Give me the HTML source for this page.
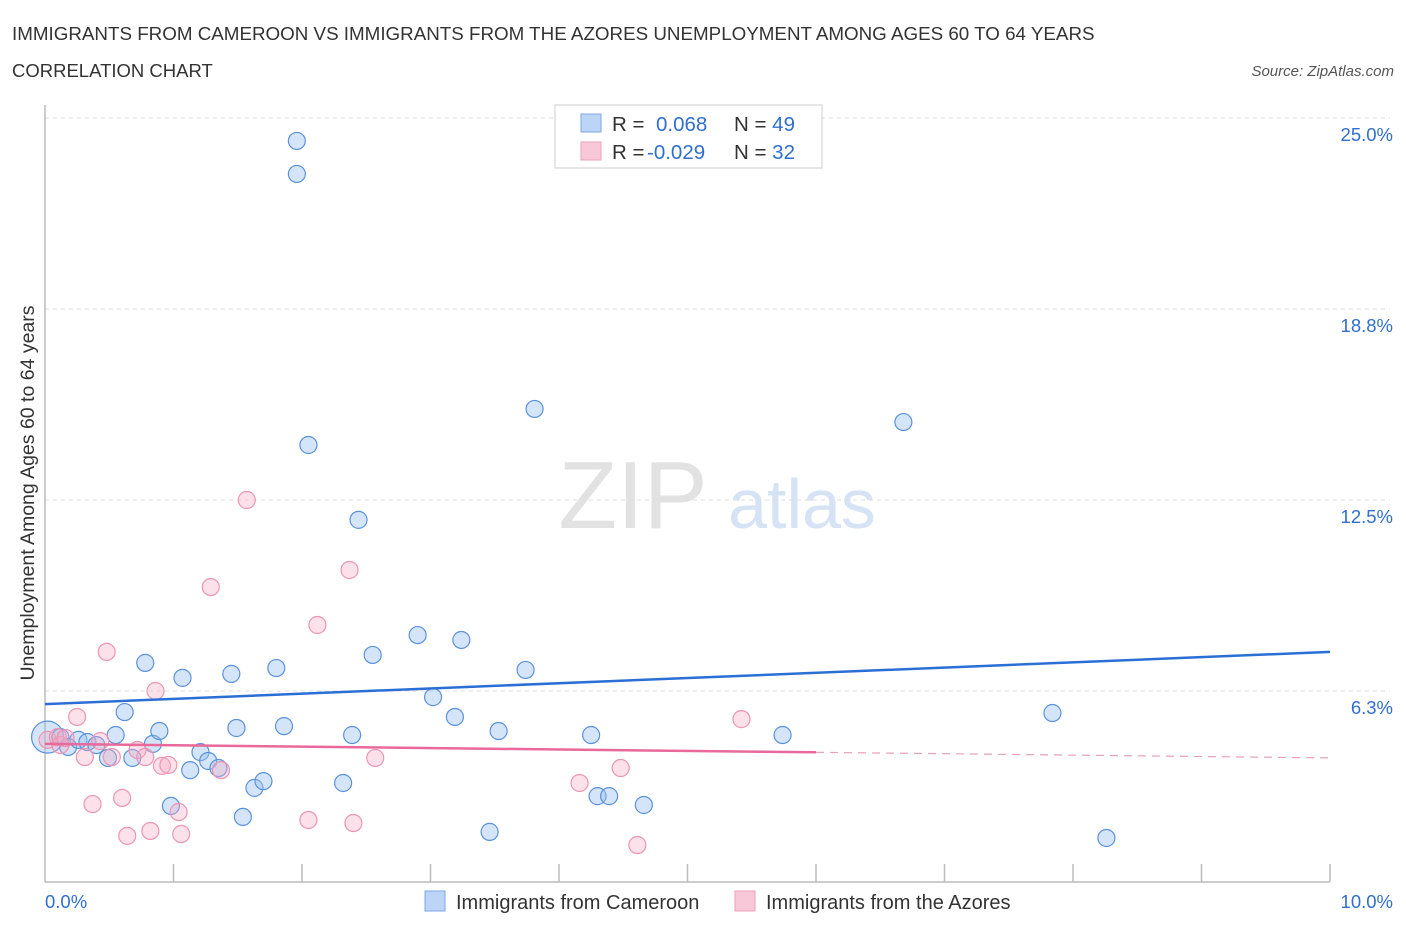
<!DOCTYPE html>
<html><head><meta charset="utf-8"><style>
body{margin:0;background:#fff;font-family:"Liberation Sans",sans-serif}
svg text{font-family:"Liberation Sans",sans-serif}
</style></head><body>
<svg id="c" width="1406" height="930" xmlns="http://www.w3.org/2000/svg">
<text x="12" y="40" font-size="18.8" fill="#333">IMMIGRANTS FROM CAMEROON VS IMMIGRANTS FROM THE AZORES UNEMPLOYMENT AMONG AGES 60 TO 64 YEARS</text>
<text x="12" y="77" font-size="18.5" fill="#333">CORRELATION CHART</text>
<text x="1394" y="76" font-size="15" font-style="italic" fill="#555" text-anchor="end">Source: ZipAtlas.com</text>
<text x="633" y="528" font-size="96" font-family="Liberation Serif" fill="#e2e2e2" text-anchor="middle">ZIP</text>
<text x="802" y="528" font-size="70" fill="#d5e3f5" text-anchor="middle">atlas</text>
<text transform="translate(34,493) rotate(-90)" font-size="19.5" fill="#333" text-anchor="middle">Unemployment Among Ages 60 to 64 years</text>
<g id="grid"></g><g id="marks"></g>
<g>
<rect x="555" y="105" width="267" height="63" fill="#fff" stroke="#ccc"/>
<rect x="581" y="114" width="20" height="18" fill="#bcd5f7" stroke="#7aa8e6"/>
<rect x="581" y="142" width="20" height="18" fill="#f8c8d8" stroke="#eca0bb"/>
<text x="612" y="131" font-size="20.5" fill="#333">R = <tspan fill="#2f6fd0" x="656">0.068</tspan><tspan x="734" fill="#333">N = </tspan><tspan fill="#2f6fd0">49</tspan></text>
<text x="612" y="159" font-size="20.5" fill="#333">R = <tspan fill="#2f6fd0" x="647">-0.029</tspan><tspan x="734" fill="#333">N = </tspan><tspan fill="#2f6fd0">32</tspan></text>
</g>
<rect x="425" y="891" width="20" height="20" fill="#bcd5f7" stroke="#7aa8e6"/>
<text x="456" y="909" font-size="20" fill="#333">Immigrants from Cameroon</text>
<rect x="735" y="891" width="20" height="20" fill="#f8c8d8" stroke="#eca0bb"/>
<text x="766" y="909" font-size="20" fill="#333">Immigrants from the Azores</text>
</svg>
<script>
const yTicks=[6.25,12.5,18.75,25];
const yTickLabels=["6.3%","12.5%","18.8%","25.0%"];
const blueX=[.02,.12,.18,.26,.33,.40,.49,.55,.62,.68,.78,.84,.89,.98,1.07,1.13,1.21,1.27,1.35,1.45,1.49,1.54,1.63,1.70,1.80,1.86,1.96,1.96,2.05,2.32,2.39,2.44,2.55,2.90,3.02,3.19,3.24,3.46,3.53,3.74,3.81,4.25,4.30,4.39,4.66,5.74,6.68,7.84,8.26];
const blueY=[4.74,4.74,4.42,4.65,4.58,4.48,4.06,4.81,5.56,4.06,7.17,4.52,4.94,2.49,6.68,3.66,4.25,3.96,3.73,6.81,5.04,2.13,3.08,3.30,7.00,5.10,24.25,23.17,14.30,3.24,4.81,11.85,7.43,8.08,6.05,5.40,7.92,1.64,4.94,6.94,15.48,4.81,2.81,2.81,2.52,4.81,15.05,5.53,1.44];
const pinkX=[.02,.10,.12,.16,.25,.31,.37,.43,.48,.52,.60,.64,.72,.78,.82,.86,.91,.96,1.04,1.06,1.29,1.37,1.57,2.05,2.12,2.37,2.40,2.57,4.16,4.48,4.61,5.42];
const pinkY=[4.65,4.74,4.48,4.71,5.40,4.09,2.55,4.61,7.53,4.09,2.75,1.51,4.32,4.09,1.67,6.25,3.80,3.83,2.29,1.57,9.65,3.66,12.50,2.03,8.41,10.21,1.93,4.06,3.24,3.73,1.21,5.33];
const blueTrend=[5.82,7.53];
const pinkTrend=[4.52,4.06];
const pinkSolidEnd=6.0;
const X0=45,X1=1330,Y0=882,YT=118;
const xs=v=>X0+(X1-X0)*v/10;
const ys=v=>Y0-(Y0-YT)*v/25;
const NS="http://www.w3.org/2000/svg";
function mk(t,a,p){const e=document.createElementNS(NS,t);for(const k in a)e.setAttribute(k,a[k]);p.appendChild(e);return e;}
const g=document.getElementById('grid'),m=document.getElementById('marks');
yTicks.forEach((v,i)=>{
 const l=mk('line',{x1:X0,x2:1390,y1:ys(v),y2:ys(v),stroke:'#ddd','stroke-dasharray':'4,4'},g);
 
 
 const t=mk('text',{x:1393,y:ys(v)+23,'font-size':18.5,fill:'#2f6fd0','text-anchor':'end'},g);
 t.textContent=yTickLabels[i];
 
 
});
for(let i=1;i<=10;i++){
 const l=mk('line',{x1:xs(i),x2:xs(i),y1:Y0-18,y2:Y0,stroke:'#bbb','stroke-width':1.5},g);
 
 
}
const ax=mk('line',{x1:X0,x2:X1,y1:Y0,y2:Y0,stroke:'#bbb','stroke-width':1.5},g);


const ay=mk('line',{x1:X0,x2:X0,y1:105,y2:Y0,stroke:'#bbb','stroke-width':1.5},g);


const xl0=mk('text',{x:X0,y:908,'font-size':18.5,fill:'#2f6fd0'},g);xl0.textContent='0.0%';


const xl1=mk('text',{x:1393,y:908,'font-size':18.5,fill:'#2f6fd0','text-anchor':'end'},g);xl1.textContent='10.0%';


blueX.forEach((x,i)=>{
 const c=mk('circle',{cx:xs(x),cy:ys(blueY[i]),r:i==0?16:8.5,fill:'rgba(150,190,240,0.4)',stroke:'#5b92dc','stroke-width':1.2},m);
 
 
});
pinkX.forEach((x,i)=>{
 const c=mk('circle',{cx:xs(x),cy:ys(pinkY[i]),r:8.5,fill:'rgba(245,170,195,0.35)',stroke:'#ec95b3','stroke-width':1.2},m);
 
 
});
const bt=mk('line',{x1:xs(0),y1:ys(blueTrend[0]),x2:xs(10),y2:ys(blueTrend[1]),stroke:'#2a6fd6','stroke-width':2.5},m);


const pv=x=>pinkTrend[0]+(pinkTrend[1]-pinkTrend[0])*x/10;
const pt=mk('line',{x1:xs(0),y1:ys(pv(0)),x2:xs(pinkSolidEnd),y2:ys(pv(pinkSolidEnd)),stroke:'#e8699a','stroke-width':2.5},m);


const pd=mk('line',{x1:xs(pinkSolidEnd),y1:ys(pv(pinkSolidEnd)),x2:xs(10),y2:ys(pv(10)),stroke:'#e8a0bb','stroke-width':1.2,'stroke-dasharray':'8,6'},m);


</script>
</body></html>
